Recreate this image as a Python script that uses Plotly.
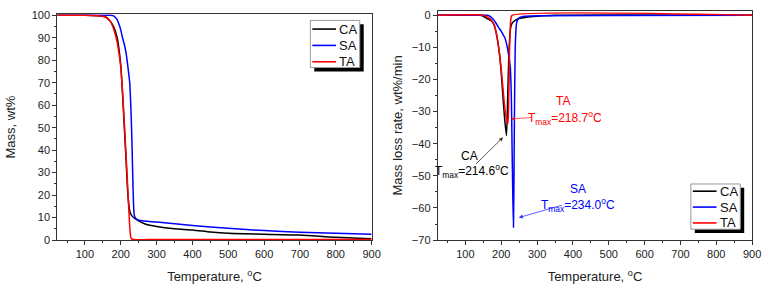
import plotly.graph_objects as go

# ---------------- data ----------------
series_names = ["CA", "SA", "TA"]
colors = {"CA": "#000000", "SA": "#0000ff", "TA": "#ff0000"}

# TG (mass, wt%)
tg_ca_t = [23, 100, 150, 160, 170, 180, 190, 195, 200, 205, 210, 215, 220, 225, 230, 240, 250, 270, 300, 350, 400, 450, 500, 600, 700, 800, 900]
tg_ca_m = [100, 100, 99.6, 99, 97.5, 95, 90, 85, 78, 65, 50, 35, 20, 13, 11, 9.5, 8.5, 7, 6, 5, 4.5, 3.6, 3, 2.6, 2.2, 1.2, 0.6]

tg_sa_t = [23, 100, 150, 170, 180, 185, 190, 195, 200, 205, 210, 215, 220, 225, 228, 231, 234, 237, 240, 245, 250, 300, 400, 500, 600, 700, 800, 900]
tg_sa_m = [100, 100, 100, 100, 99.7, 99, 98, 96, 93.5, 90, 87, 83, 77, 70, 60, 45, 25, 12, 10, 9.2, 8.8, 8, 6.5, 5.2, 4.2, 3.5, 3, 2.6]

tg_ta_t = [23, 100, 150, 160, 170, 180, 190, 195, 200, 205, 210, 215, 218, 222, 226, 230, 300, 900]
tg_ta_m = [100, 100, 99.6, 99, 97.5, 94, 88, 83, 77, 66, 52, 37, 28, 15, 4, 0.5, 0.3, 0.3]

# DTG (mass loss rate, wt%/min)
dtg_ca_t = [23, 140, 150, 160, 165, 170, 175, 180, 185, 190, 195, 200, 205, 210, 214.6, 218, 222, 226, 230, 240, 250, 270, 300, 350, 900]
dtg_ca_v = [0, 0, -0.3, -1, -1.3, -1.6, -2, -3, -5, -8, -12, -18, -26, -33, -37.5, -25, -10, -4, -2.5, -1.5, -1, -0.6, -0.3, 0, 0]

dtg_sa_t = [23, 160, 170, 175, 180, 185, 190, 195, 200, 205, 210, 215, 220, 225, 228, 230, 232, 234, 235.5, 237, 239, 242, 245, 250, 260, 280, 900]
dtg_sa_v = [0, 0, -0.4, -1, -1.6, -2.4, -3.3, -4.2, -5, -6, -7, -9, -12, -16, -25, -40, -55, -66, -50, -28, -10, -3, -1.5, -0.8, -0.4, -0.2, 0]

dtg_ta_t = [23, 150, 160, 170, 175, 180, 185, 190, 195, 200, 205, 210, 215, 218.7, 221, 223, 225, 227, 230, 900]
dtg_ta_v = [0, 0, -0.5, -1.2, -2, -3, -5, -8, -12, -17, -23, -29, -32.5, -33.8, -25, -12, -4, -1, 0, 0]

tmax_labels = {"CA": "214.6", "SA": "234.0", "TA": "218.7"}

x_ticks = [100, 200, 300, 400, 500, 600, 700, 800, 900]
tg_ticks = [0, 10, 20, 30, 40, 50, 60, 70, 80, 90, 100]
dtg_ticks = [-70, -60, -50, -40, -30, -20, -10, 0]

# ---------------- figure ----------------
W, H = 772, 291
FONT = "Liberation Sans, Arial, sans-serif"
fig = go.Figure()

tg = {"CA": (tg_ca_t, tg_ca_m), "SA": (tg_sa_t, tg_sa_m), "TA": (tg_ta_t, tg_ta_m)}
dtg = {"CA": (dtg_ca_t, dtg_ca_v), "SA": (dtg_sa_t, dtg_sa_v), "TA": (dtg_ta_t, dtg_ta_v)}

for n in series_names:
    fig.add_trace(go.Scatter(x=tg[n][0], y=tg[n][1], mode="lines", name=n,
                             line=dict(color=colors[n], width=1.5, shape="spline", smoothing=0.6),
                             xaxis="x", yaxis="y", showlegend=False))
for n in series_names:
    fig.add_trace(go.Scatter(x=dtg[n][0], y=dtg[n][1], mode="lines", name=n,
                             line=dict(color=colors[n], width=1.5, shape="spline", smoothing=0.6),
                             xaxis="x2", yaxis="y2", showlegend=False))

axis_common = dict(showline=True, linecolor="#333", linewidth=1.2, mirror=True,
                   ticks="outside", ticklen=4, tickwidth=1, tickcolor="#333",
                   showgrid=False, zeroline=False,
                   tickfont=dict(family=FONT, size=11, color="#222"),
                   title_font=dict(family=FONT, size=13, color="#222"))

xd1 = [58 / W, 376 / W]
xd2 = [443 / W, 761 / W]
yd1 = [1 - 244.3 / H, 1 - 9.5 / H]
yd2 = [1 - 244.3 / H, 1 - 6 / H]

fig.update_layout(
    width=W, height=H, margin=dict(l=0, r=0, t=0, b=0),
    paper_bgcolor="white", plot_bgcolor="white",
    font=dict(family=FONT, size=11, color="#222"),
    showlegend=False,
    xaxis=dict(domain=xd1, range=[23, 900], tickvals=x_ticks, anchor="y",
               minor=dict(dtick=50, tick0=50, ticks="outside", ticklen=2, tickcolor="#333"),
               title=dict(text="Temperature, <sup>o</sup>C", standoff=12), **axis_common),
    yaxis=dict(domain=yd1, range=[0, 100.5], tickvals=tg_ticks, anchor="x",
               minor=dict(dtick=5, tick0=5, ticks="outside", ticklen=2, tickcolor="#333"),
               title=dict(text="Mass, wt%", standoff=13), **axis_common),
    xaxis2=dict(domain=xd2, range=[23, 900], tickvals=x_ticks, anchor="y2",
                minor=dict(dtick=50, tick0=50, ticks="outside", ticklen=2, tickcolor="#333"),
                title=dict(text="Temperature, <sup>o</sup>C", standoff=12), **axis_common),
    yaxis2=dict(domain=yd2, range=[-70, 1.4], tickvals=dtg_ticks,
                ticktext=[("\u2212" + str(-v)) if v < 0 else str(v) for v in dtg_ticks],
                anchor="x2",
                minor=dict(dtick=5, tick0=-5, ticks="outside", ticklen=2, tickcolor="#333"),
                title=dict(text="Mass loss rate, wt%/min", standoff=6), **axis_common),
)

# ---------------- legends (boxed, with drop shadow) ----------------
def px_x(p):
    return p / W

def px_y(p):
    return 1 - p / H

def draw_legend(left, top, right, bottom, row_ys):
    # shadow
    fig.add_shape(type="rect", xref="paper", yref="paper",
                  x0=px_x(left + 4), x1=px_x(right + 4), y0=px_y(bottom + 4), y1=px_y(top + 4),
                  fillcolor="black", line=dict(width=0), layer="above")
    # box
    fig.add_shape(type="rect", xref="paper", yref="paper",
                  x0=px_x(left), x1=px_x(right), y0=px_y(bottom), y1=px_y(top),
                  fillcolor="white", line=dict(color="#999", width=1), layer="above")
    for n, ry in zip(series_names, row_ys):
        fig.add_shape(type="line", xref="paper", yref="paper",
                      x0=px_x(left + 2), x1=px_x(left + 26), y0=px_y(ry), y1=px_y(ry),
                      line=dict(color=colors[n], width=1.6), layer="above")
        fig.add_annotation(x=px_x(left + 27), y=px_y(ry), xref="paper", yref="paper",
                           xanchor="left", yanchor="middle", text=n, showarrow=False,
                           font=dict(family=FONT, size=13, color="#111"))

draw_legend(314, 16, 364, 65, [25, 42, 59])
draw_legend(699, 186, 749, 233, [193.5, 210, 226.5])

# ---------------- annotations (right panel) ----------------
ann_font = dict(family=FONT, size=12)
texts = [
    ("TA", 371, -26.8, "TA"),
    ("TA", 377, -31.9, "T<sub>max</sub>=" + tmax_labels["TA"] + "<sup>o</sup>C"),
    ("CA", 110, -43.8, "CA"),
    ("CA", 119, -48.6, "T<sub>max</sub>=" + tmax_labels["CA"] + "<sup>o</sup>C"),
    ("SA", 413, -54.0, "SA"),
    ("SA", 415, -59.1, "T<sub>max</sub>=" + tmax_labels["SA"] + "<sup>o</sup>C"),
]
for n, x, y, t in texts:
    fig.add_annotation(x=x, y=y, xref="x2", yref="y2", text=t, showarrow=False,
                       font=dict(color=colors[n], **ann_font))

arrows = [
    ("TA", 288, -31.8, 227, -32.3),
    ("CA", 125, -46.8, 205, -38.0),
    ("SA", 374, -59.0, 249, -63.0),
]
for n, tx, ty, hx, hy in arrows:
    fig.add_annotation(x=hx, y=hy, ax=tx, ay=ty, xref="x2", yref="y2", axref="x2", ayref="y2",
                       text="", showarrow=True, arrowhead=2, arrowsize=1, arrowwidth=0.8,
                       arrowcolor=colors[n], opacity=0.8)

fig.write_html("out.html")
